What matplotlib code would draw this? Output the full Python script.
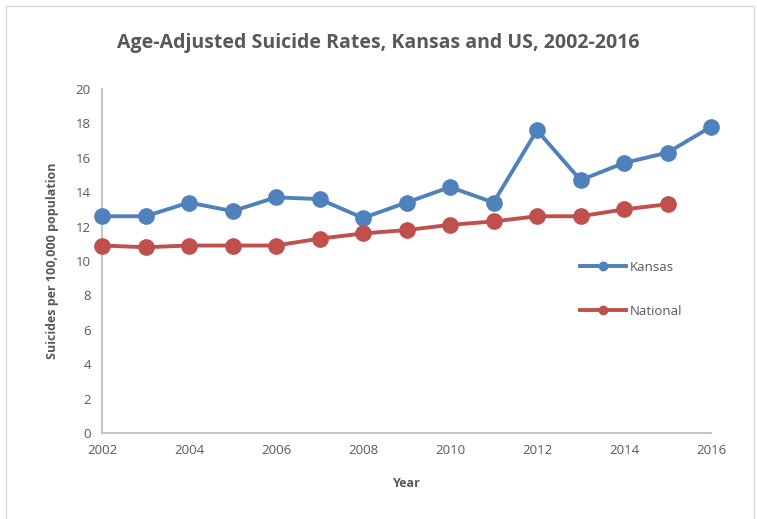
import matplotlib
matplotlib.use("Agg")
import matplotlib.pyplot as plt
from matplotlib.patches import Rectangle

years = list(range(2002, 2017))
kansas = [12.6, 12.6, 13.4, 12.9, 13.7, 13.6, 12.5, 13.4, 14.3, 13.4, 17.6, 14.7, 15.7, 16.3, 17.8]
nat_years = list(range(2002, 2016))
national = [10.9, 10.8, 10.9, 10.9, 10.9, 11.3, 11.6, 11.8, 12.1, 12.3, 12.6, 12.6, 13.0, 13.3]
xticks = list(range(2002, 2017, 2))
yticks = list(range(0, 21, 2))

plt.rcParams['font.family'] = ['Open Sans', 'DejaVu Sans']
txt = '#595959'
fig = plt.figure(figsize=(7.57, 5.19), dpi=100)
fig.patches.append(Rectangle((6/757, -0.01), 748/757, 1 - 6/519 + 0.01, transform=fig.transFigure,
                             fill=False, edgecolor='#D9D9D9', linewidth=1))
ax = fig.add_axes([102/757, (519-433)/519, (711-102)/757, (433-89)/519])
ax.plot(years, kansas, color='#4F81BD', lw=2.8, marker='o', ms=11, clip_on=False, label='Kansas', zorder=3)
ax.plot(nat_years, national, color='#C0504D', lw=2.8, marker='o', ms=11, clip_on=False, label='National', zorder=3)
ax.set_xlim(2002, 2016)
ax.set_ylim(0, 20)
ax.set_xticks(xticks)
ax.set_yticks(yticks)
ax.tick_params(length=0, labelsize=9.5, colors=txt, pad=8)
for s in ['top', 'right']:
    ax.spines[s].set_visible(False)
for s in ['left', 'bottom']:
    ax.spines[s].set_color('#BFBFBF')
    ax.spines[s].set_linewidth(1.3)
ax.set_xlabel('Year', fontsize=9, fontweight='bold', color=txt, labelpad=14)
ax.set_ylabel('Suicides per 100,000 population', fontsize=9, fontweight='bold', color=txt, labelpad=12)
fig.text(0.5, 1 - 43/519, 'Age-Adjusted Suicide Rates, Kansas and US, 2002-2016', ha='center', va='center',
         fontsize=14, fontweight='bold', color=txt)
leg = ax.legend(loc='upper left', bbox_to_anchor=((568-102)/609, (433-249)/344), frameon=False,
                fontsize=9.5, handlelength=3.5, labelspacing=2.35, markerscale=0.55, handletextpad=0.3)
for t in leg.get_texts():
    t.set_color(txt)
fig.savefig('out.png', dpi=100)
